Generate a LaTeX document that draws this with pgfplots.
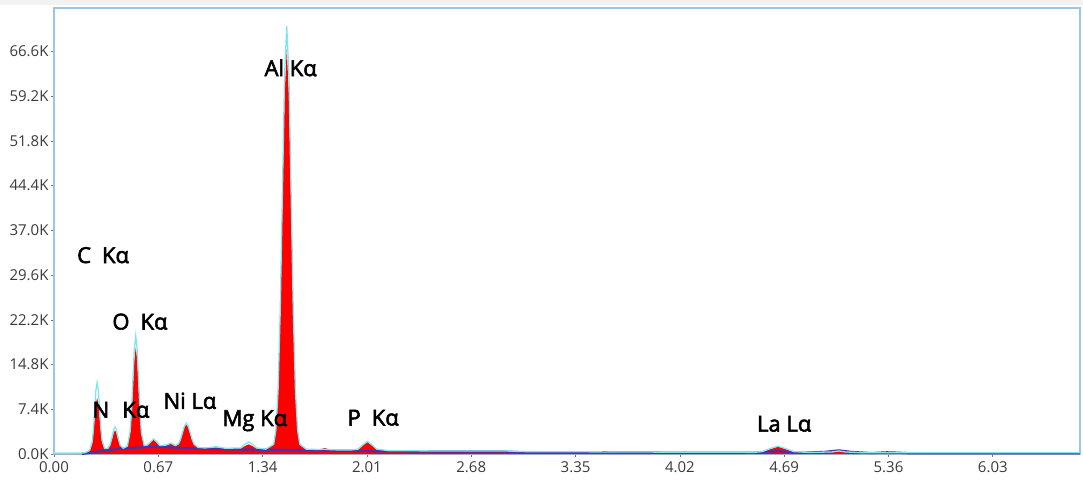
\documentclass[border=0pt]{standalone}
\usepackage{pgfplots}
\pgfplotsset{compat=1.18}
\usepackage{fontspec}
\setmainfont{Open Sans}
\newfontfamily\lblfont[FakeBold=2.5]{Open Sans}
\definecolor{frame}{HTML}{9CC4E4}
\definecolor{cyanl}{HTML}{7FE6F0}
\definecolor{bgline}{HTML}{4A2FA8}
\definecolor{tickc}{HTML}{3A3A3A}
\begin{document}
\begin{tikzpicture}
\path[use as bounding box] (0,0) rectangle (1083pt,485pt);
\fill[gray!10] (0,480pt) rectangle (1083pt,485pt);
\begin{axis}[
  at={(54pt,31pt)}, anchor=south west,
  scale only axis, width=1026pt, height=446pt,
  xmin=0, xmax=6.59, ymin=0, ymax=73.8,
  axis line style={frame, line width=1.2pt},
  tick align=outside, major tick length=3pt,
  xtick pos=bottom, ytick pos=left,
  tick style={tickc!70, line width=0.6pt},
  xtick={0,0.67,1.34,2.01,2.68,3.35,4.02,4.69,5.36,6.03},
  xticklabels={0.00,0.67,1.34,2.01,2.68,3.35,4.02,4.69,5.36,6.03},
  ytick={0,7.4,14.8,22.2,29.6,37.0,44.4,51.8,59.2,66.6},
  yticklabels={0.0K,7.4K,14.8K,22.2K,29.6K,37.0K,44.4K,51.8K,59.2K,66.6K},
  ticklabel style={font=\fontsize{15}{18}\selectfont, text=tickc},
  xticklabel style={yshift=-1pt},
  yticklabel style={xshift=1pt},
  clip=true,
]
% main spectrum (red)
\addplot[fill=red, draw=none] table {
x y
0.00 0
0.15 0
0.20 0.1
0.229 0.5
0.245 1.6
0.253 3.3
0.261 5.8
0.269 8.3
0.277 9.3
0.285 8.3
0.293 5.9
0.301 3.5
0.309 1.9
0.325 0.8
0.345 0.8
0.36 1.3
0.376 2.7
0.384 3.55
0.392 3.9
0.400 3.55
0.408 2.7
0.424 1.4
0.445 0.9
0.471 1.2
0.489 3.3
0.498 6.4
0.507 11.1
0.516 15.6
0.525 17.6
0.534 15.6
0.543 11.1
0.552 6.5
0.561 3.3
0.579 1.3
0.60 1.4
0.62 1.9
0.64 2.4
0.66 1.9
0.68 1.3
0.72 1.4
0.75 1.7
0.78 1.3
0.80 1.6
0.8125 2.3
0.825 3.35
0.8375 4.4
0.85 4.85
0.8625 4.4
0.875 3.35
0.8875 2.3
0.90 1.5
0.925 1.0
0.97 0.9
1.04 1.1
1.10 0.85
1.20 0.9
1.225 1.3
1.25 1.6
1.275 1.3
1.30 0.9
1.36 0.75
1.411 1.5
1.425 3.65
1.439 9.7
1.453 22.3
1.467 40.9
1.481 59.2
1.495 67.0
1.509 59.2
1.523 40.9
1.537 22.3
1.551 9.7
1.565 3.65
1.579 1.5
1.62 0.75
1.70 0.7
1.74 1.0
1.78 0.65
1.90 0.6
1.953 0.75
1.983 1.4
2.013 1.95
2.043 1.4
2.073 0.75
2.15 0.5
2.50 0.45
2.90 0.45
3.00 0.35
3.50 0.3
4.00 0.25
4.50 0.22
4.55 0.35
4.60 0.8
4.65 1.2
4.70 0.8
4.75 0.35
4.85 0.2
5.00 0.3
5.04 0.4
5.08 0.3
5.20 0.15
6.00 0.12
6.59 0.1
} \closedcycle;
% background (purple-blue)
\addplot[bgline, line width=2.2pt] table {
x y
0.18 0
0.25 0.3
0.30 0.5
0.40 0.8
0.50 1.0
0.60 1.15
0.70 1.15
0.80 1.05
0.90 0.95
1.00 0.85
1.20 0.75
1.40 0.7
1.60 0.65
1.80 0.55
2.00 0.5
2.10 0.45
2.50 0.4
2.90 0.4
3.00 0.3
3.50 0.28
4.00 0.22
4.50 0.2
4.60 0.4
4.65 0.5
4.70 0.4
4.80 0.2
4.95 0.35
5.04 0.6
5.12 0.35
5.25 0.15
5.35 0.28
5.42 0.22
5.50 0.12
6.00 0.1
6.59 0.1
};
% envelope (cyan)
\addplot[cyanl, line width=1.3pt] table {
x y
0.00 0.15
0.15 0.15
0.20 0.2
0.229 0.6
0.245 2.0
0.253 4.1
0.261 7.3
0.269 10.5
0.277 11.8
0.285 10.5
0.293 7.4
0.301 4.3
0.309 2.2
0.325 0.9
0.345 0.9
0.36 1.5
0.376 3.1
0.384 4.1
0.392 4.5
0.400 4.1
0.408 3.1
0.424 1.5
0.445 0.95
0.471 1.3
0.489 3.7
0.498 7.1
0.507 12.4
0.516 17.4
0.525 19.6
0.534 17.4
0.543 12.4
0.552 7.2
0.561 3.6
0.579 1.4
0.60 1.5
0.62 2.0
0.64 2.5
0.66 2.0
0.68 1.4
0.72 1.5
0.75 1.8
0.78 1.4
0.80 1.7
0.8125 2.4
0.825 3.5
0.8375 4.6
0.85 5.1
0.8625 4.6
0.875 3.5
0.8875 2.4
0.90 1.6
0.925 1.1
0.97 1.0
1.04 1.2
1.10 0.95
1.20 1.0
1.225 1.6
1.25 2.0
1.275 1.6
1.30 1.0
1.36 0.8
1.411 1.6
1.425 3.9
1.439 10.3
1.453 23.6
1.467 43.2
1.481 62.6
1.495 70.8
1.509 62.6
1.523 43.2
1.537 23.6
1.551 10.3
1.565 3.9
1.579 1.6
1.62 0.8
1.70 0.75
1.74 0.8
1.78 0.7
1.90 0.65
1.953 0.8
1.983 1.5
2.013 2.1
2.043 1.5
2.073 0.8
2.15 0.55
2.50 0.5
2.90 0.5
3.00 0.4
3.50 0.35
4.00 0.3
4.50 0.27
4.55 0.4
4.60 0.9
4.65 1.3
4.70 0.9
4.75 0.4
4.85 0.25
5.00 0.35
5.04 0.5
5.08 0.35
5.20 0.2
6.00 0.2
6.59 0.2
};
% labels
\begin{scope}[every node/.style={font=\lblfont\fontsize{22}{26}\selectfont, text=black, inner sep=0pt}]
\node at (axis cs:0.315,32.9) {C\hspace{0.5em}Kα};
\node at (axis cs:0.552,21.9) {O\hspace{0.5em}Kα};
\node at (axis cs:0.43,7.3) {N\hspace{0.6em}Kα};
\node at (axis cs:0.873,8.8) {Ni Lα};
\node at (axis cs:1.29,5.5) {Mg Kα};
\node at (axis cs:1.52,63.9) {Al Kα};
\node at (axis cs:2.05,6.0) {P\hspace{0.5em}Kα};
\node at (axis cs:4.69,5.0) {La Lα};
\end{scope}
\end{axis}
\end{tikzpicture}
\end{document}
